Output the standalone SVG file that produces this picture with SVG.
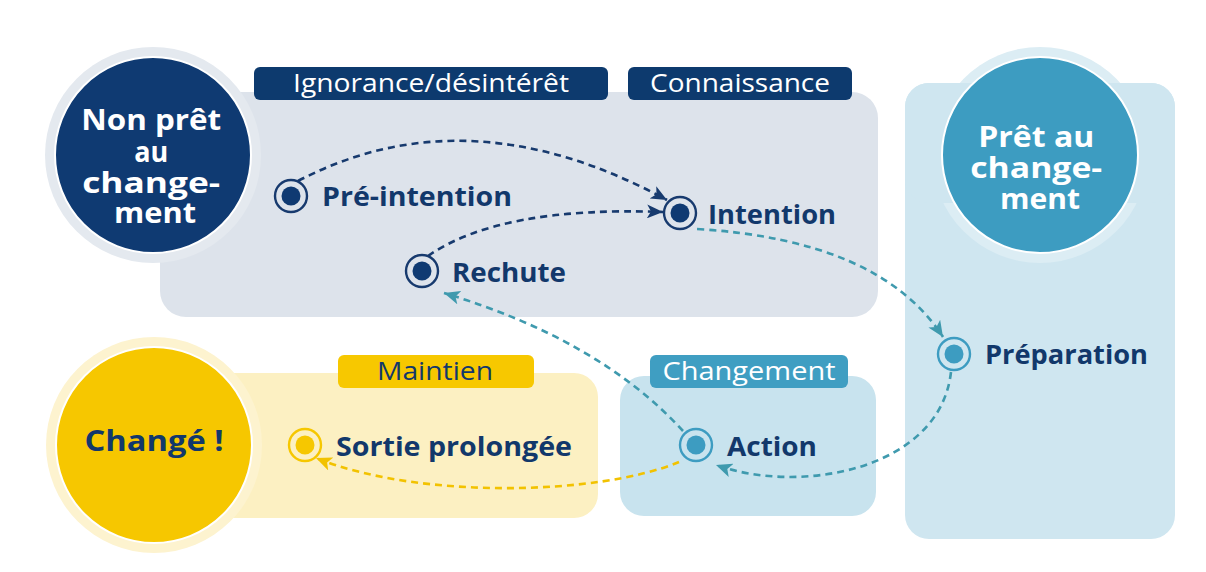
<svg xmlns="http://www.w3.org/2000/svg" width="1206" height="572" viewBox="0 0 1206 572">
  <defs>
    <style>
      .bar-text { font-family: "Open Sans", Lato, "Liberation Sans", sans-serif; font-size: 25px; text-anchor: middle; }
      .node-text { font-family: "Open Sans", Lato, "Liberation Sans", sans-serif; font-size: 27px; font-weight: bold; fill: #12386b; }
      .big-text { font-family: "Open Sans", Lato, "Liberation Sans", sans-serif; font-size: 29px; font-weight: bold; text-anchor: middle; }
      .link { fill: none; stroke-width: 2.6; stroke-dasharray: 7 5; }
      .navy { stroke: #173a6e; }
      .teal { stroke: #3f9aae; }
      .gold { stroke: #f2c200; }
      .ring { fill: none; stroke-width: 2.4; }
    </style>
    <marker id="arrow-navy" markerUnits="userSpaceOnUse" markerWidth="18" markerHeight="14" refX="16" refY="7" orient="auto">
      <path d="M0,0 L16,7 L0,14 L4,7 Z" fill="#173a6e"/>
    </marker>
    <marker id="arrow-teal" markerUnits="userSpaceOnUse" markerWidth="18" markerHeight="14" refX="16" refY="7" orient="auto">
      <path d="M0,0 L16,7 L0,14 L4,7 Z" fill="#3f9aae"/>
    </marker>
    <marker id="arrow-gold" markerUnits="userSpaceOnUse" markerWidth="18" markerHeight="14" refX="16" refY="7" orient="auto">
      <path d="M0,0 L16,7 L0,14 L4,7 Z" fill="#f2c200"/>
    </marker>
  </defs>

  <rect width="1206" height="572" fill="#ffffff"/>

  <!-- stage panels -->
  <g id="panels">
    <rect x="160" y="92" width="718" height="225" rx="26" fill="#dde3eb"/>
    <rect x="905" y="83" width="270" height="456" rx="24" fill="#cfe6f0"/>
    <rect x="205" y="373" width="393" height="145" rx="24" fill="#fcf0c2"/>
    <rect x="620" y="376" width="256" height="140" rx="24" fill="#c8e3ee"/>
  </g>

  <!-- readiness circles -->
  <g id="not-ready">
    <circle cx="153" cy="155" r="108" fill="#e4e9ef"/>
    <circle cx="153" cy="155" r="98" fill="#0f3a72" stroke="#ffffff" stroke-width="2"/>
    <text class="big-text" fill="#ffffff">
      <tspan x="155" y="130" textLength="140" lengthAdjust="spacingAndGlyphs">Non prêt</tspan>
      <tspan x="155" y="162" textLength="34" lengthAdjust="spacingAndGlyphs">au</tspan>
      <tspan x="155" y="193" textLength="138" lengthAdjust="spacingAndGlyphs">change-</tspan>
      <tspan x="155" y="223" textLength="82" lengthAdjust="spacingAndGlyphs">ment</tspan>
    </text>
  </g>
  <g id="ready">
    <circle cx="1040" cy="155" r="108" fill="#dcedf4"/>
    <rect x="905" y="83" width="270" height="120" rx="24" fill="#cfe6f0"/>
    <circle cx="1040" cy="155" r="98" fill="#3d9cc1" stroke="#ffffff" stroke-width="2"/>
    <text class="big-text" fill="#ffffff">
      <tspan x="1040" y="147" textLength="116" lengthAdjust="spacingAndGlyphs">Prêt au</tspan>
      <tspan x="1040" y="178" textLength="132" lengthAdjust="spacingAndGlyphs">change-</tspan>
      <tspan x="1040" y="209" textLength="80" lengthAdjust="spacingAndGlyphs">ment</tspan>
    </text>
  </g>
  <g id="changed">
    <circle cx="154" cy="445" r="108" fill="#fdf3cf"/>
    <circle cx="154" cy="445" r="98" fill="#f6c700" stroke="#ffffff" stroke-width="2"/>
    <text class="big-text" x="154" y="451" fill="#12386b" textLength="139" lengthAdjust="spacingAndGlyphs">Changé !</text>
  </g>

  <!-- stage labels -->
  <g id="label-ignorance">
    <rect x="254" y="67" width="354" height="33" rx="6" fill="#0d3a6e"/>
    <text class="bar-text" x="431" y="92" fill="#ffffff" textLength="276" lengthAdjust="spacingAndGlyphs">Ignorance/désintérêt</text>
  </g>
  <g id="label-connaissance">
    <rect x="628" y="67" width="224" height="33" rx="6" fill="#0d3a6e"/>
    <text class="bar-text" x="740" y="92" fill="#ffffff" textLength="180" lengthAdjust="spacingAndGlyphs">Connaissance</text>
  </g>
  <g id="label-maintien">
    <rect x="338" y="355" width="196" height="33" rx="6" fill="#f7c800"/>
    <text class="bar-text" x="435" y="380" fill="#12386b" textLength="116" lengthAdjust="spacingAndGlyphs">Maintien</text>
  </g>
  <g id="label-changement">
    <rect x="650" y="355" width="198" height="33" rx="6" fill="#3f9ec2"/>
    <text class="bar-text" x="749" y="380" fill="#ffffff" textLength="173" lengthAdjust="spacingAndGlyphs">Changement</text>
  </g>

  <!-- transitions between stages -->
  <g id="connectors">
    <path class="link navy" d="M 298 181 Q 468 92 667 200" marker-end="url(#arrow-navy)"/>
    <path class="link navy" d="M 428 256 Q 500 206 663 212" marker-end="url(#arrow-navy)"/>
    <path class="link teal" d="M 697 229 Q 880 240 943 337" marker-end="url(#arrow-teal)"/>
    <path class="link teal" d="M 951 372 C 940 470 800 495 716 465" marker-end="url(#arrow-teal)"/>
    <path class="link teal" d="M 683 431 Q 600 340 444 293" marker-end="url(#arrow-teal)"/>
    <path class="link gold" d="M 679 462 C 600 495 420 500 316 458" marker-end="url(#arrow-gold)"/>
  </g>

  <!-- stage nodes -->
  <g id="node-pre-intention">
    <circle class="ring" cx="291" cy="196" r="16" stroke="#173a6e"/>
    <circle cx="291" cy="196" r="9.5" fill="#0f3a72"/>
    <text class="node-text" x="322" y="206" textLength="190" lengthAdjust="spacingAndGlyphs">Pré-intention</text>
  </g>
  <g id="node-intention">
    <circle class="ring" cx="680" cy="213" r="16" stroke="#173a6e"/>
    <circle cx="680" cy="213" r="9.5" fill="#0f3a72"/>
    <text class="node-text" x="708" y="224" textLength="128" lengthAdjust="spacingAndGlyphs">Intention</text>
  </g>
  <g id="node-rechute">
    <circle class="ring" cx="422" cy="271" r="16" stroke="#173a6e"/>
    <circle cx="422" cy="271" r="9.5" fill="#0f3a72"/>
    <text class="node-text" x="452" y="282" textLength="114" lengthAdjust="spacingAndGlyphs">Rechute</text>
  </g>
  <g id="node-preparation">
    <circle class="ring" cx="954" cy="354" r="16" stroke="#3d9cc1"/>
    <circle cx="954" cy="354" r="9.5" fill="#3d9cc1"/>
    <text class="node-text" x="985" y="364" textLength="163" lengthAdjust="spacingAndGlyphs">Préparation</text>
  </g>
  <g id="node-action">
    <circle class="ring" cx="696" cy="445" r="16" stroke="#3d9cc1"/>
    <circle cx="696" cy="445" r="9.5" fill="#3d9cc1"/>
    <text class="node-text" x="727" y="456" textLength="90" lengthAdjust="spacingAndGlyphs">Action</text>
  </g>
  <g id="node-sortie">
    <circle class="ring" cx="305" cy="445" r="16" stroke="#f6c700"/>
    <circle cx="305" cy="445" r="9.5" fill="#f6c700"/>
    <text class="node-text" x="336" y="456" textLength="236" lengthAdjust="spacingAndGlyphs">Sortie prolongée</text>
  </g>
</svg>
